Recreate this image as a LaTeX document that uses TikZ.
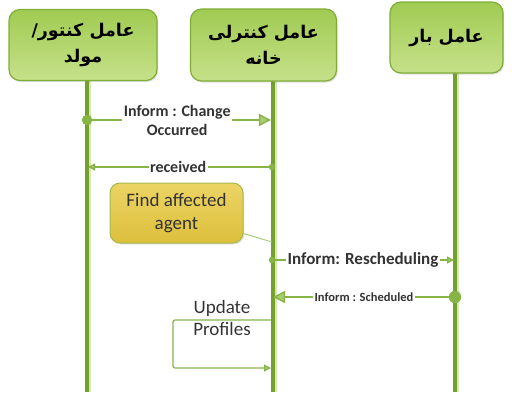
\documentclass[tikz,border=0pt]{standalone}
\usepackage{fontspec}
\setmainfont{Carlito}
\newfontfamily\arabicfont[Script=Arabic]{DejaVu Sans}
\TeXXeTstate=1
\usetikzlibrary{arrows.meta,shadows}
\definecolor{boxlight}{HTML}{C6E18A}
\definecolor{boxdark}{HTML}{A0CB52}
\definecolor{boxedge}{HTML}{7FAE35}
\definecolor{life}{HTML}{74A02B}
\definecolor{lifelight}{HTML}{D6E8BA}
\definecolor{msg}{HTML}{86B447}
\definecolor{tipfill}{HTML}{A8CD6C}
\definecolor{yellight}{HTML}{ECD465}
\definecolor{yeldark}{HTML}{DDBF3C}
\definecolor{yeledge}{HTML}{A3B94C}
\definecolor{txt}{HTML}{333333}
\tikzset{
  actor/.style={draw=boxedge, line width=1.2pt, rounded corners=11pt,
    top color=boxdark, bottom color=boxlight, align=center,
    drop shadow={opacity=0.25, shadow xshift=1.2pt, shadow yshift=-1.5pt},
    font=\arabicfont\bfseries\fontsize{17.5}{26}\selectfont, inner sep=2pt},
  lifeline/.style={draw=life, line width=3.6pt},
  lifeshade/.style={draw=lifelight, line width=2.5pt},
  msgline/.style={draw=msg, line width=1.4pt},
  bigtip/.style={-{Triangle[width=12pt,length=12pt,fill=tipfill]}},
  smalltip/.style={-{Triangle[width=7pt,length=7pt,fill=tipfill]}},
  lbl/.style={fill=white, inner sep=1.5pt, align=center, text=txt,
    font=\bfseries\fontsize{16}{19}\selectfont},
  note/.style={draw=yeledge, line width=1pt, rounded corners=10pt,
    top color=yellight, bottom color=yeldark, align=center, text=txt,
    drop shadow={opacity=0.2, shadow xshift=1.2pt, shadow yshift=-1.5pt},
    font=\fontsize{19}{23}\selectfont},
  dot/.style={fill=msg, draw=msg}
}
\begin{document}
\begin{tikzpicture}[x=1pt,y=-1pt]
\useasboundingbox (0,0) rectangle (512,394);

% lifelines
\coordinate (l1t) at (87,80);  \coordinate (l1b) at (87,392);
\coordinate (l2t) at (273,80); \coordinate (l2b) at (273,392);
\coordinate (l3t) at (455,73); \coordinate (l3b) at (455,392);
\draw[lifeshade] ([xshift=2.5pt]l1t) -- ([xshift=2.5pt]l1b);
\draw[lifeshade] ([xshift=2.5pt]l2t) -- ([xshift=2.5pt]l2b);
\draw[lifeshade] ([xshift=2.5pt]l3t) -- ([xshift=2.5pt]l3b);
\draw[lifeline] (l1t) -- (l1b);
\draw[lifeline] (l2t) -- (l2b);
\draw[lifeline] (l3t) -- (l3b);

% actors
\node[actor, minimum width=148pt, minimum height=71pt] (a1) at (83,45)
  {\beginR عامل کنتور/\endR\\\beginR مولد\endR};
\node[actor, minimum width=146pt, minimum height=72pt] (a2) at (263.5,45)
  {\beginR عامل کنترلی\endR\\\beginR خانه\endR};
\node[actor, minimum width=113pt, minimum height=71pt] (a3) at (446.5,37.5)
  {\beginR عامل بار\endR};

% message 1
\coordinate (m1s) at (87,120);
\coordinate (m1e) at (271,120);
\draw[msgline, bigtip] (m1s) -- node[lbl, pos=0.49] (m1l) {Inform : Change\\Occurred} (m1e);
\fill[dot] (m1s) circle (5pt);

% message 2
\coordinate (m2s) at (272,167);
\coordinate (m2e) at (88,167);
\draw[msgline, smalltip] (m2s) -- node[lbl, pos=0.51] (m2l) {received} (m2e);
\fill[dot] (m2s) circle (3pt);

% note
\node[note, minimum width=133pt, minimum height=60pt] (find) at (176.5,213)
  {Find affected\\agent};
\coordinate (fc) at (272,242);
\draw[draw=msg!70, line width=1pt] (find.-17) -- (fc);

% message 3
\coordinate (m3s) at (272,260);
\coordinate (m3e) at (454,260);
\draw[msgline, smalltip] (m3s) -- node[lbl, font=\bfseries\fontsize{17}{19}\selectfont] (m3l) {Inform: Rescheduling} (m3e);
\fill[dot] (m3s) circle (3pt);

% message 4
\coordinate (m4s) at (455,297);
\coordinate (m4e) at (273,297);
\draw[msgline, bigtip] (m4s) -- node[lbl, font=\bfseries\fontsize{12.5}{14}\selectfont] (m4l) {Inform : Scheduled} (m4e);
\fill[dot] (m4s) circle (6pt);

% self message
\node[align=center, text=txt, font=\fontsize{19}{22}\selectfont] (up) at (222,318) {Update\\Profiles};
\coordinate (u1) at (271,320);
\coordinate (u2) at (271,368);
\draw[draw=msg, line width=1.2pt, rounded corners=2pt, smalltip]
  (u1) -- (173,320) -- (173,368) -- (u2);
\end{tikzpicture}
\end{document}
